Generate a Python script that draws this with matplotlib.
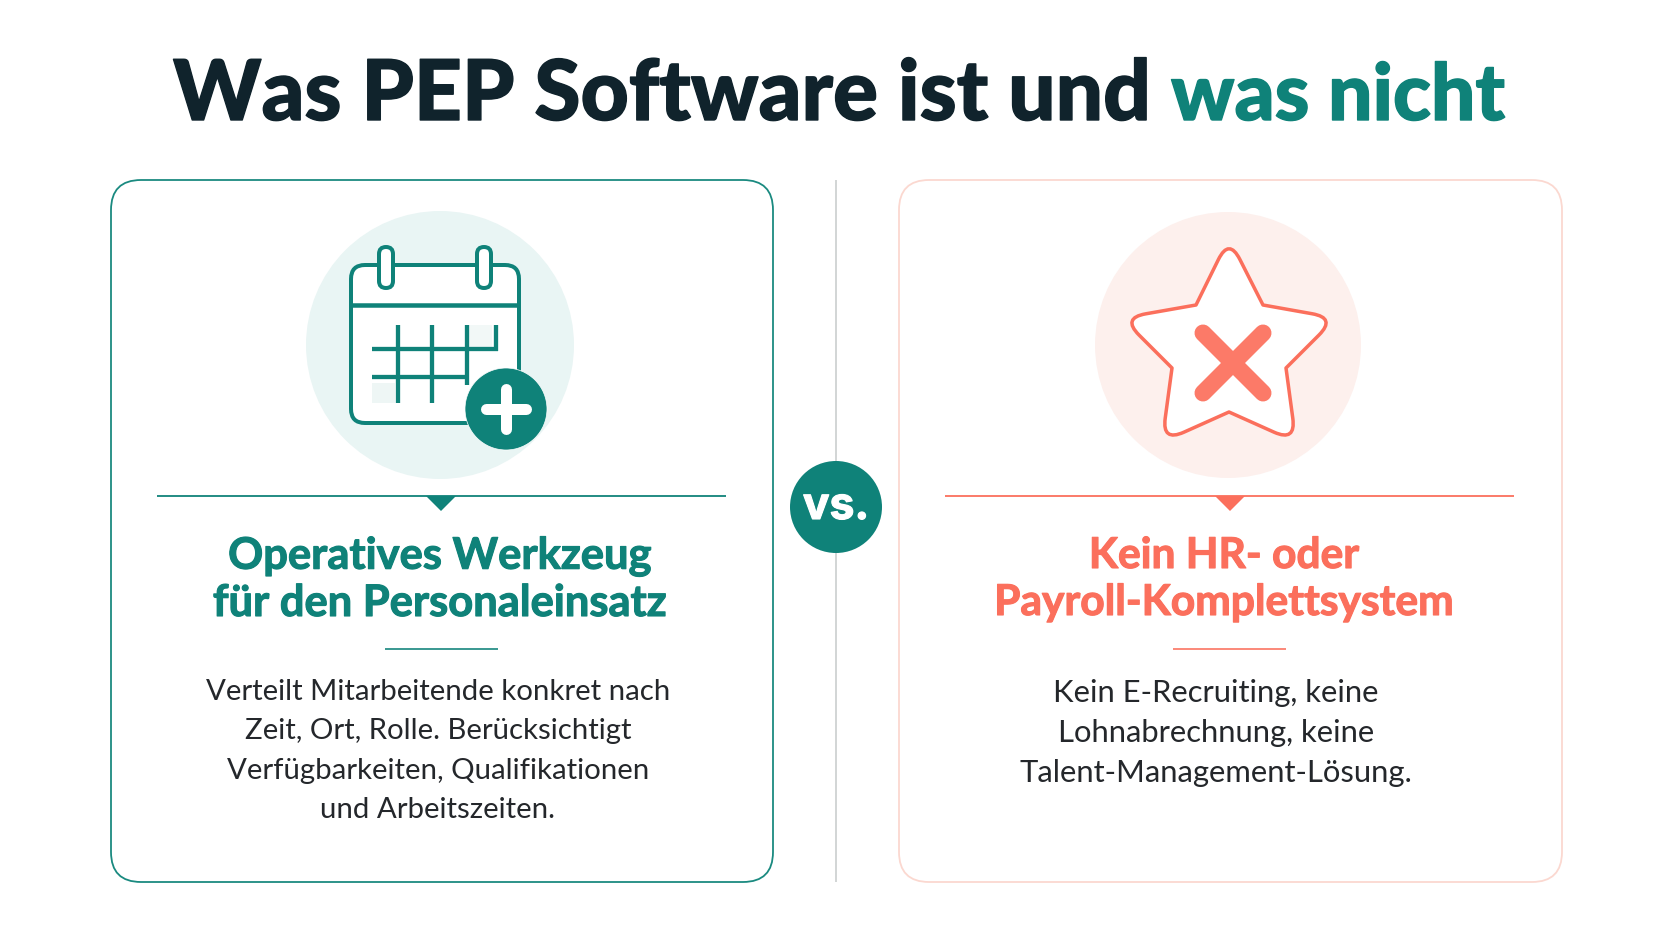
import matplotlib
matplotlib.use("Agg")
import matplotlib.pyplot as plt
import matplotlib.patheffects as pe
from matplotlib.patches import Circle, FancyBboxPatch, PathPatch, Polygon, Rectangle
from matplotlib.path import Path

TEAL = "#0f8279"
CORAL = "#fb6f5c"
DARK = "#10232c"
BODY = "#24272b"

title_dark = "Was PEP Software ist und"
title_teal = "was nicht"
left_head = ["Operatives Werkzeug", "für den Personaleinsatz"]
left_body = ["Verteilt Mitarbeitende konkret nach", "Zeit, Ort, Rolle. Berücksichtigt",
             "Verfügbarkeiten, Qualifikationen", "und Arbeitszeiten."]
right_head = ["Kein HR- oder", "Payroll-Komplettsystem"]
right_body = ["Kein E-Recruiting, keine", "Lohnabrechnung, keine",
              "Talent-Management-Lösung."]
left_body_y = [692, 731, 771, 810]
right_body_y = [693, 733, 773]

# Stern: Ecken in Pixeln, aussen gerundet
star_outer = [(1229, 238), (1336, 318), (1296, 442), (1162, 442), (1122, 318)]
star_inner = [(1263, 305), (1286, 368), (1229, 412), (1172, 368), (1196, 305)]


def px(w):
    return w * 72 / 100


fig = plt.figure(figsize=(16.72, 9.41), dpi=100)
ax = fig.add_axes([0, 0, 1, 1])
ax.set_xlim(0, 1672)
ax.set_ylim(941, 0)
ax.axis("off")


def line(xs, ys, color, w, **kw):
    ax.plot(xs, ys, color=color, lw=px(w), solid_capstyle=kw.pop("cap", "butt"), **kw)


def card(x0, x1, edge):
    ax.add_patch(FancyBboxPatch((x0, 180), x1 - x0, 702, boxstyle="round,pad=0,rounding_size=30",
                                fc="white", ec=edge, lw=px(1.8)))


def texts(head, body, body_y, cx_head, cx_body, color, head_size, size):
    for s, y in zip(head, [556, 603]):
        ax.text(cx_head, y, s, ha="center", va="center", fontsize=head_size, color=color,
                family="Lato", weight="bold",
                path_effects=[pe.withStroke(linewidth=0.8, foreground=color)])
    for s, y in zip(body, body_y):
        ax.text(cx_body, y, s, ha="center", va="center", fontsize=size, color=BODY, family="Lato")


# Titel
ax.text(173, 120, title_dark, ha="left", va="baseline", fontsize=60.3, color=DARK,
        family="Lato", weight="black",
        path_effects=[pe.withStroke(linewidth=1.0, foreground=DARK)])
ax.text(1171, 120, title_teal, ha="left", va="baseline", fontsize=56.5, color=TEAL,
        family="Lato", weight="black",
        path_effects=[pe.withStroke(linewidth=1.0, foreground=TEAL)])

card(111, 773, "#1a8a80")
card(899, 1562, "#fbd8d0")

# Mitte
line([836, 836], [180, 882], "#c9cccc", 1.6)
ax.add_patch(Circle((836, 507), 46, fc=TEAL, ec="none", zorder=3))
ax.text(836, 507, "vs.", ha="center", va="center", fontsize=32, color="white",
        family="Inter", weight="bold", zorder=4,
        path_effects=[pe.withStroke(linewidth=0.8, foreground="white")])

# Kreise
ax.add_patch(Circle((440, 345), 134, fc="#e9f5f4", ec="none"))
ax.add_patch(Circle((1228, 345), 133, fc="#fdf0ed", ec="none"))

# Kalender
ax.add_patch(FancyBboxPatch((351, 265), 168, 158, boxstyle="round,pad=0,rounding_size=14",
                            fc="white", ec=TEAL, lw=px(4)))
ax.add_patch(Rectangle((372, 383), 23, 20, fc="#eef6f5", ec="none"))
ax.add_patch(Rectangle((467, 325), 25, 22, fc="#f2f8f7", ec="none"))
line([351, 519], [305, 305], TEAL, 4.5)
for x in [386, 484]:
    ax.add_patch(FancyBboxPatch((x - 7, 247), 14, 41, boxstyle="round,pad=0,rounding_size=7",
                                fc="white", ec=TEAL, lw=px(4)))
line([398, 398], [325, 403], TEAL, 4.3)
line([432, 432], [325, 403], TEAL, 4.3)
line([467, 467], [325, 385], TEAL, 4.3)
line([496, 496], [325, 351], TEAL, 4.3)
line([372, 498], [349, 349], TEAL, 4.3)
line([372, 467], [377, 377], TEAL, 4.3)
ax.add_patch(Circle((506, 409), 41, fc=TEAL, ec="white", lw=0.5, zorder=3))
line([486, 526], [409, 409], "white", 11, cap="round", zorder=4)
line([506, 506], [389, 429], "white", 11, cap="round", zorder=4)

# Stern mit Kreuz
verts, codes = [], []
cut = 24
for i in range(5):
    o = star_outer[i]
    prev_p = star_inner[i - 1]
    next_p = star_inner[i]
    d = ((prev_p[0] - o[0]) ** 2 + (prev_p[1] - o[1]) ** 2) ** 0.5
    a = (o[0] + (prev_p[0] - o[0]) * cut / d, o[1] + (prev_p[1] - o[1]) * cut / d)
    d = ((next_p[0] - o[0]) ** 2 + (next_p[1] - o[1]) ** 2) ** 0.5
    b = (o[0] + (next_p[0] - o[0]) * cut / d, o[1] + (next_p[1] - o[1]) * cut / d)
    verts += [a, o, b, next_p]
    codes += [Path.MOVETO if i == 0 else Path.LINETO, Path.CURVE3, Path.CURVE3, Path.LINETO]
verts.append(verts[0])
codes.append(Path.CLOSEPOLY)
ax.add_patch(PathPatch(Path(verts, codes), fc="white", ec=CORAL, lw=px(3.5), joinstyle="round"))
line([1203, 1263], [333, 393], "#fc7a68", 17, cap="round")
line([1263, 1203], [333, 393], "#fc7a68", 17, cap="round")

# Trennlinien
line([157, 726], [496, 496], TEAL, 1.8)
ax.add_patch(Polygon([(426, 496), (456, 496), (441, 511)], fc=TEAL, ec="none"))
line([945, 1514], [496, 496], CORAL, 1.8)
ax.add_patch(Polygon([(1215, 496), (1245, 496), (1230, 511)], fc=CORAL, ec="none"))
line([385, 498], [649, 649], TEAL, 1.6)
line([1173, 1286], [649, 649], CORAL, 1.6)

texts(left_head, left_body, left_body_y, 440, 438, TEAL, 31.3, 21.2)
texts(right_head, right_body, right_body_y, 1224, 1216, CORAL, 30.6, 22.3)

fig.savefig("out.png", dpi=100, facecolor="white")
